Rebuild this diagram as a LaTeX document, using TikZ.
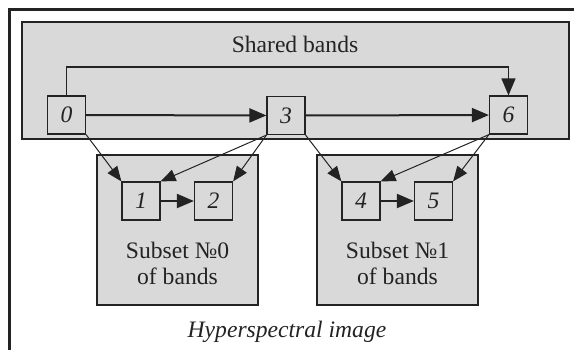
\documentclass[tikz,border=0pt]{standalone}
\usepackage{fontspec}
\setmainfont{Liberation Serif}
\usetikzlibrary{arrows.meta}
\definecolor{boxfill}{RGB}{217,217,217}
\definecolor{ink}{RGB}{35,35,35}
\begin{document}
\begin{tikzpicture}[x=0.5pt,y=-0.5pt,
  every node/.style={font=\fontsize{11.8}{13}\selectfont, text=ink},
  region/.style={draw=ink, line width=0.6pt, fill=boxfill, inner sep=0pt},
  band/.style={draw=ink, line width=0.6pt, fill=boxfill, minimum size=19pt, inner sep=0pt, font=\fontsize{11.8}{13}\selectfont\itshape},
  thickarrow/.style={draw=ink, line width=1pt, -{Triangle[length=8.5pt,width=7pt]}},
  thinarrow/.style={draw=ink, line width=0.5pt, -{Triangle[length=7.5pt,width=6pt]}}]
\useasboundingbox (0,0) rectangle (574,349);
\clip (0,0) rectangle (574,349);
\fill[white] (0,0) rectangle (574,349);
\draw[ink, line width=1.6pt] (9.5,380) -- (9.5,9.5) -- (600,9.5);
% regions
\node[region, minimum width=273.5pt, minimum height=58.5pt] (shared) at (295.5,80.5) {};
\node[region, minimum width=80.5pt, minimum height=75pt] (sub0) at (177.5,230) {};
\node[region, minimum width=80.5pt, minimum height=75pt] (sub1) at (397.5,230) {};
\node (sharedlbl) at (295,44) {Shared bands};
\node[align=center] (sub0lbl) at (177.5,263) {Subset №0\\of bands};
\node[align=center] (sub1lbl) at (397.5,263) {Subset №1\\of bands};
\node[font=\fontsize{11.8}{13}\selectfont\itshape] (hyper) at (287,332) {Hyperspectral image};
% bands
\node[band] (n0) at (66.5,115) {0};
\node[band] (n3) at (286,115.5) {3};
\node[band] (n6) at (508.5,115) {6};
\node[band] (n1) at (141,201) {1};
\node[band] (n2) at (213.5,201) {2};
\node[band] (n4) at (361,201) {4};
\node[band] (n5) at (433.5,201) {5};
% connectors
\coordinate (topline) at (0,67);
\draw[thinarrow, line width=0.7pt, -{Triangle[length=8.5pt,width=7pt]}] (n0.north) -- (n0.north |- topline) -| (n6.north);
\draw[thickarrow] (n0) -- (n3);
\draw[thickarrow] (n3) -- (n6);
\draw[thickarrow] (n1) -- (n2);
\draw[thickarrow] (n4) -- (n5);
\draw[thinarrow] (n0.south east) -- (n1.north west);
\draw[thinarrow] (n3.south west) -- (n1.north east);
\draw[thinarrow] (n3.south west) -- (n2.north east);
\draw[thinarrow] (n3.south east) -- (n4.north west);
\draw[thinarrow] (n6.south west) -- (n4.north east);
\draw[thinarrow] (n6.south west) -- (n5.north east);
\end{tikzpicture}
\end{document}
